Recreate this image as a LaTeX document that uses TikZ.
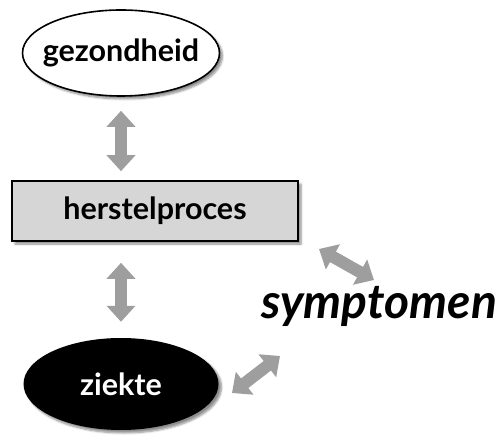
\documentclass[tikz,border=0pt]{standalone}
\usepackage{fontspec}
\setmainfont{Lato}
\usetikzlibrary{shapes.geometric,arrows.meta,shadows.blur}
\definecolor{arrowgray}{RGB}{158,158,158}
\definecolor{boxgray}{RGB}{214,214,214}
\tikzset{
  bigarrow/.style={line width=12pt, arrowgray, {Triangle[length=16pt,width=28pt]}-{Triangle[length=16pt,width=28pt]}},
  shad/.style={blur shadow={shadow xshift=3pt, shadow yshift=-3pt, shadow blur steps=6, shadow opacity=45}},
  lab/.style={font=\fontsize{30.5}{33}\selectfont\bfseries},
}
\begin{document}
\begin{tikzpicture}[x=1pt,y=-1pt]
\useasboundingbox (0,0) rectangle (504,438);
\node[ellipse, draw, line width=1.6pt, fill=white, shad, minimum width=197pt, minimum height=86pt, inner xsep=-12pt, inner ysep=0pt, lab] (gez) at (121,53) {gezondheid};
\node[rectangle, draw, line width=1.6pt, fill=boxgray, shad, minimum width=286pt, minimum height=60pt, inner sep=0pt, lab] (box) at (155,211) {herstelproces};
\node[ellipse, fill=black, shad, minimum width=195pt, minimum height=92pt, inner sep=0pt, lab, text=white] (zie) at (121,384) {ziekte};
\node[font=\fontsize{48}{52}\selectfont\bfseries\itshape, inner sep=0pt] (sym) at (379,306) {symptomen};
\coordinate (a3s) at (319,249);
\coordinate (a3e) at (374,280);
\coordinate (a4s) at (232,393);
\coordinate (a4e) at (280,356);
\draw[bigarrow, shorten <=14pt, shorten >=9pt] (gez.south) -- (box.north -| gez.south);
\draw[bigarrow, shorten <=21pt, shorten >=16pt] (box.south -| gez.south) -- (zie.north);
\draw[bigarrow] (a3s) -- (a3e);
\draw[bigarrow] (a4s) -- (a4e);
\end{tikzpicture}
\end{document}
